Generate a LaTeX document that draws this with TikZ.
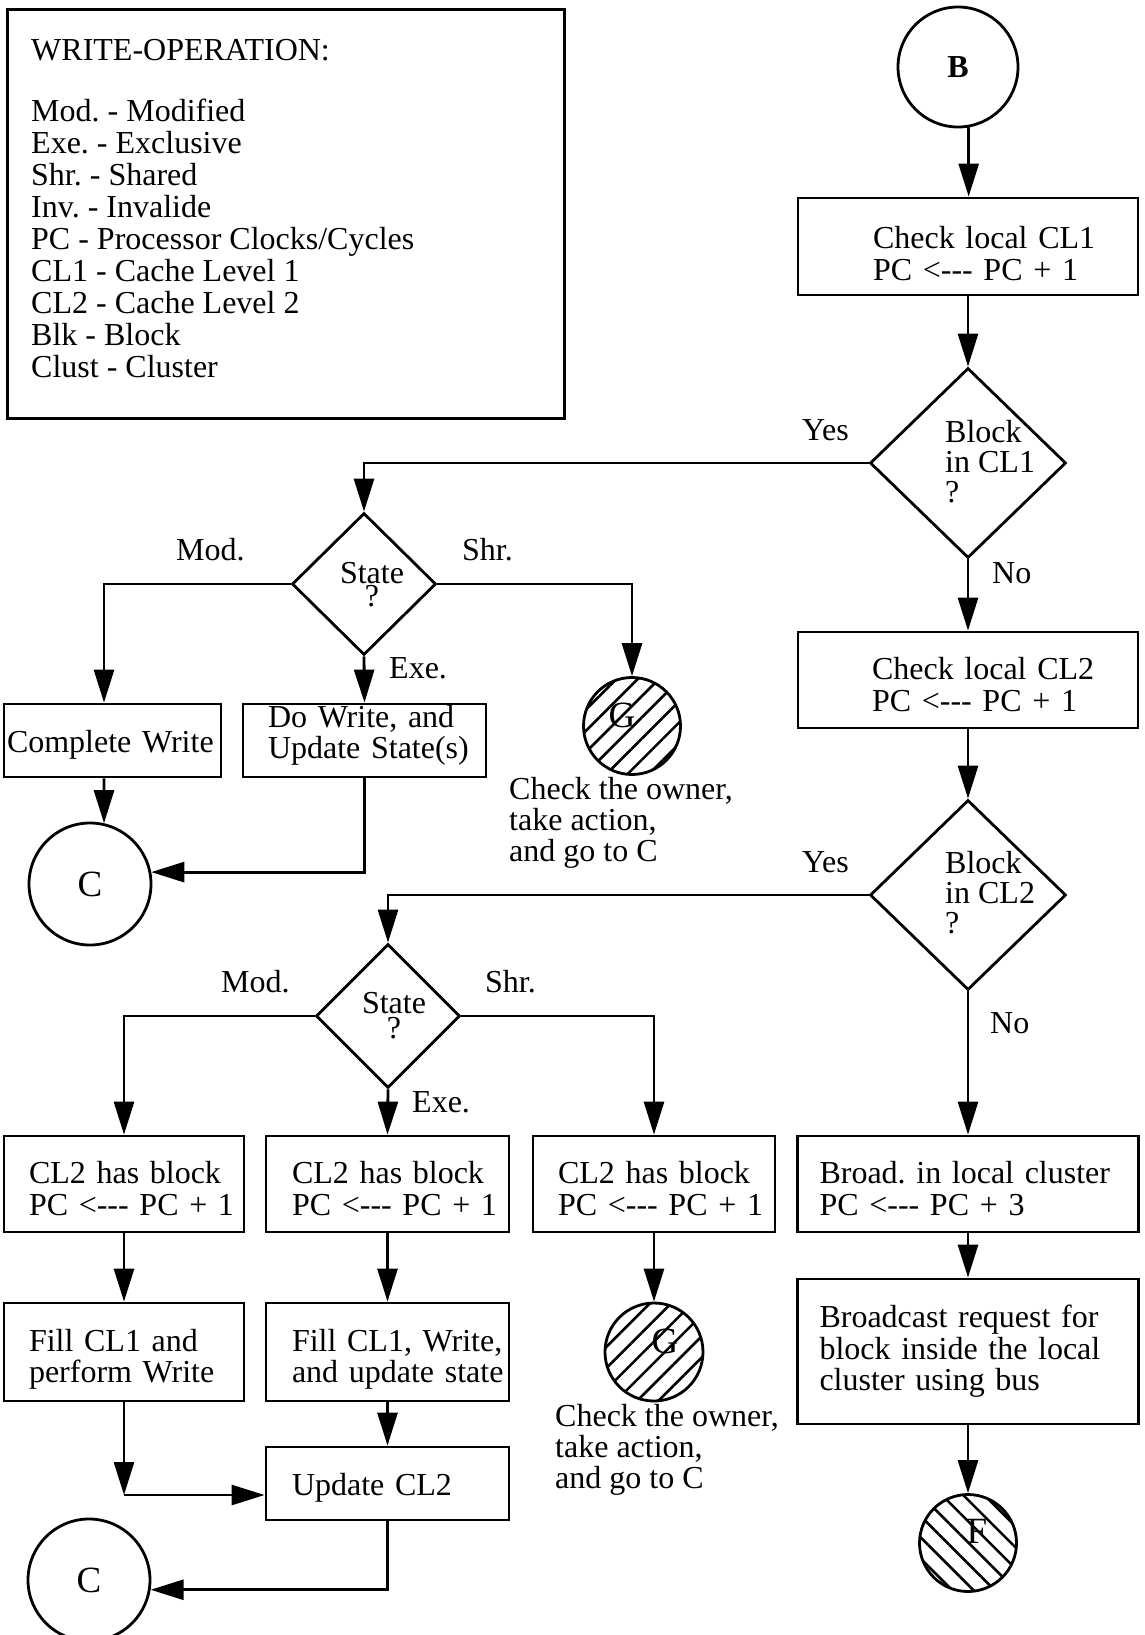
\documentclass[tikz,border=0pt]{standalone}
\usepackage{fontspec}
\setmainfont{Liberation Serif}
\usetikzlibrary{arrows.meta,shapes.geometric,patterns.meta}
\newcommand\padl[1]{\hspace*{#1pt}}
\begin{document}
\begin{tikzpicture}[x=1pt,y=-1pt,
  every node/.style={font=\frenchspacing\fontsize{32pt}{31.5pt}\selectfont, inner sep=0pt},
  lw/.style={line width=2.8pt},
  box/.style={draw, lw, rectangle, inner sep=0pt, align=left},
  dia/.style={draw, lw, diamond, inner sep=0pt},
  circ/.style={draw, lw, circle, inner sep=0pt},
  bigletter/.style={font=\fontsize{37pt}{37pt}\selectfont},
  hatchne/.style={pattern={Lines[angle=45,distance=15pt,line width=2.6pt]}},
  hatchnw/.style={pattern={Lines[angle=-45,distance=15pt,line width=2.6pt]}},
  arr/.style={lw, -{Triangle[length=33pt,width=20pt]}},
  lbl/.style={anchor=base west},
  multi/.style={anchor=base west, align=left, font=\frenchspacing\fontsize{32pt}{#1}\selectfont},
  statetxt/.style={anchor=base, align=center, font=\frenchspacing\fontsize{32pt}{#1}\selectfont},
]
\useasboundingbox (0,0) rectangle (1145,1635);
\clip (0,0) rectangle (1145,1635);
\fill[white] (0,0) rectangle (1145,1635);

% ---------- legend ----------
\node[draw, lw, anchor=north west, minimum width=557pt, minimum height=409pt] (legend) at (6,8) {};
\node[multi=32pt] (legendtext) at (31,377) {WRITE-OPERATION:\\[29pt]Mod. - Modified\\Exe. - Exclusive\\Shr. - Shared\\Inv. - Invalide\\PC - Processor Clocks/Cycles\\CL1 - Cache Level 1\\CL2 - Cache Level 2\\Blk - Block\\Clust - Cluster};

% ---------- right column ----------
\node[circ, minimum size=120pt] (B) at (958,67) {\bfseries B};
\node[box, text width=340pt, minimum height=97pt, text height=36.5pt] (c1) at (968,246.5) {\padl{75}Check local CL1\\\padl{75}PC <-{}-{}- PC + 1};
\node[dia, minimum width=196pt, minimum height=190pt] (d1) at (968,463) {};
\node[multi=30pt] (d1t) at (945,502) {Block\\in CL1\\?};
\node[lbl] (yes1) at (802,440) {Yes};
\node[lbl] (no1) at (992,583) {No};
\node[box, text width=340pt, minimum height=96pt, text height=31.5pt] (c2) at (968,680) {\padl{74}Check local CL2\\\padl{74}PC <-{}-{}- PC + 1};
\node[dia, minimum width=196pt, minimum height=190pt] (d2) at (968,895) {};
\node[multi=30pt] (d2t) at (945,933) {Block\\in CL2\\?};
\node[lbl] (yes2) at (802,872) {Yes};
\node[lbl] (no2) at (990,1033) {No};
\node[box, text width=341pt, minimum height=96pt, text height=31.5pt] (c3) at (968,1184) {\padl{22}Broad. in local cluster\\\padl{22}PC <-{}-{}- PC + 3};
\node[box, text width=341pt, minimum height=145pt] (c4) at (968,1351.5) {\padl{22}Broadcast request for\\\padl{22}block inside the local\\\padl{22}cluster using bus};
\node[bigletter] (fl) at (977,1531) {F};
\node[circ, minimum size=97pt, hatchnw] (F) at (968,1543) {};

% ---------- upper left ----------
\node[dia, minimum width=144pt, minimum height=142pt] (s1) at (364,584) {};
\node[statetxt=23pt] (s1t) at (372,606) {State\\?};
\node[lbl] (mod1) at (176,560) {Mod.};
\node[lbl] (shr1) at (462,560) {Shr.};
\node[lbl] (exe1) at (389,678) {Exe.};
\node[box, text width=217pt, minimum height=73pt, text height=30pt] (cw) at (112.5,740.5) {\padl{3}Complete Write};
\node[box, text width=243pt, minimum height=73pt, text height=11.5pt] (dw) at (364.5,740.5) {\padl{25}Do Write, and\\\padl{25}Update State(s)};
\node[bigletter] (g1l) at (622,715) {G};
\node[circ, minimum size=97pt, hatchne] (G1) at (632,726) {};
\node[multi=31pt] (g1t) at (509,861) {Check the owner,\\take action,\\and go to C};
\node[circ, minimum size=122pt, bigletter] (C1) at (90,884) {C};
\coordinate (m1) at (104,584);

% ---------- lower left ----------
\node[dia, minimum width=144pt, minimum height=144pt] (s2) at (388,1016) {};
\node[statetxt=25pt] (s2t) at (394,1038) {State\\?};
\node[lbl] (mod2) at (221,992) {Mod.};
\node[lbl] (shr2) at (485,992) {Shr.};
\node[lbl] (exe2) at (412,1112) {Exe.};
\node[box, text width=240pt, minimum height=96pt, text height=31.5pt] (bA) at (124,1184) {\padl{25}CL2 has block\\\padl{25}PC <-{}-{}- PC + 1};
\node[box, text width=243pt, minimum height=96pt, text height=31.5pt] (bB) at (387.5,1184) {\padl{26}CL2 has block\\\padl{26}PC <-{}-{}- PC + 1};
\node[box, text width=242pt, minimum height=96pt, text height=31.5pt] (bC) at (654,1184) {\padl{25}CL2 has block\\\padl{25}PC <-{}-{}- PC + 1};
\node[box, text width=240pt, minimum height=98pt, text height=37pt] (fA) at (124,1352) {\padl{25}Fill CL1 and\\\padl{25}perform Write};
\node[box, text width=243pt, minimum height=98pt, text height=37pt] (fB) at (387.5,1352) {\padl{26}Fill CL1, Write,\\\padl{26}and update state};
\node[bigletter] (g2l) at (665,1341) {G};
\node[circ, minimum size=98pt, hatchne] (G2) at (654,1352) {};
\node[multi=31pt] (g2t) at (555,1488) {Check the owner,\\take action,\\and go to C};
\node[box, text width=243pt, minimum height=73pt, text height=30pt] (up) at (387.5,1483.5) {\padl{26}Update CL2};
\node[circ, minimum size=122pt, bigletter] (C2) at (89,1580) {C};
\coordinate (k1) at (124,1495);

% ---------- connectors ----------
\draw[arr] (B.280) -- (B.280 |- c1.north);
\draw[arr] (c1.south) -- (d1.north);
\draw[arr] (d1.west) -| (s1.north);
\draw[arr] (d1.south) -- (c2.north);
\draw[arr] (c2.south) -- (d2.north);
\draw[arr] (d2.west) -| (s2.north);
\draw[arr] (d2.south) -- (c3.north);
\draw[arr] (c3.south) -- (c4.north);
\draw[arr] (c4.south) -- (F.north);

\draw[arr] (s1.west) -| (m1 |- cw.north);
\draw[arr] (s1.south) -- (dw.north);
\draw[arr] (s1.east) -| (G1.north);
\draw[arr] (m1 |- cw.south) -- (C1.77);
\draw[arr] (dw.south) |- (C1.11);

\draw[arr] (s2.west) -| (bA.north);
\draw[arr] (s2.south) -- (bB.north);
\draw[arr] (s2.east) -| (bC.north);
\draw[arr] (bA.south) -- (fA.north);
\draw[arr] (bB.south) -- (fB.north);
\draw[arr] (bC.south) -- (G2.north);
\draw[arr] (fB.south) -- (up.north);
\draw[arr] (fA.south) -- (k1);
\draw[arr] (k1) -- (k1 -| up.west);
\draw[arr] (up.south) |- (C2.-9);
\end{tikzpicture}
\end{document}
